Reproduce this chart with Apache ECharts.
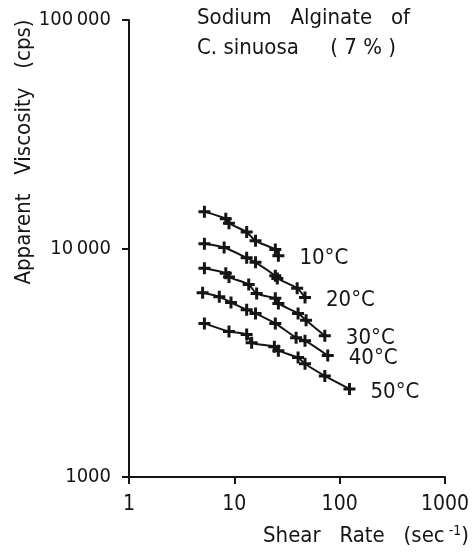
<!DOCTYPE html>
<html>
<head>
<meta charset="utf-8">
<script src="https://cdn.jsdelivr.net/npm/echarts@6/dist/echarts.min.js"></script>
<style>
  html, body { margin: 0; padding: 0; background: #fff; }
  #main { width: 472px; height: 556px; }
</style>
</head>
<body>
<div id="main"></div>
<script>
// shear rate (sec-1) / apparent viscosity (cps)
var rate10 = [5.2, 8.3, 8.9, 13.1, 15.9, 24.5, 26.2];
var visc10 = [14500, 13500, 12900, 11800, 10800, 9900, 9300];

var rate20 = [5.2, 8.0, 13.1, 15.9, 24.5, 25.6, 39.5, 46.9];
var visc20 = [10500, 10100, 9100, 8700, 7600, 7400, 6700, 6100];

var rate30 = [5.2, 8.3, 8.9, 13.7, 16.3, 24.5, 26.2, 40.3, 48.0, 72.3];
var visc30 = [8200, 7800, 7500, 6950, 6350, 6050, 5750, 5200, 4850, 4150];

var rate40 = [5.0, 7.2, 9.3, 13.1, 15.9, 24.5, 38.6, 46.9, 77.1];
var visc40 = [6400, 6150, 5800, 5400, 5200, 4700, 4070, 3950, 3400];

var rate50 = [5.2, 8.9, 13.1, 14.6, 24.0, 26.2, 40.3, 46.9, 72.3, 124];
var visc50 = [4700, 4330, 4200, 3870, 3720, 3570, 3330, 3130, 2770, 2430];

var seriesNames = ['10°C', '20°C', '30°C', '40°C', '50°C'];
var xTicks = [1, 10, 100, 1000];
var yTicks = [1000, 10000, 100000];

var FONT = '"DejaVu Sans Condensed", sans-serif';
var INK = '#151515';
// fat plus sign, like the hand-drawn data crosses
var CROSS = 'path://M-1.5,-6 L1.5,-6 L1.5,-1.5 L6,-1.5 L6,1.5 L1.5,1.5 L1.5,6 L-1.5,6 L-1.5,1.5 L-6,1.5 L-6,-1.5 L-1.5,-1.5 Z';

function pairs(xs, ys){
    var out = [];
    for (var i = 0; i < xs.length; i++) out.push([xs[i], ys[i]]);
    return out;
}

function makeSeries(name, xs, ys){
    return {
        name: name,
        type: 'line',
        data: pairs(xs, ys),
        smooth: 0.25,
        symbol: CROSS,
        symbolSize: 12,
        itemStyle: { color: INK },
        lineStyle: { color: INK, width: 2 },
        endLabel: {
            show: true,
            formatter: name,
            distance: 21,
            offset: [0, 3],
            color: INK,
            fontSize: 22,
            fontFamily: FONT
        },
        animation: false
    };
}

var dom = document.getElementById('main');
var myChart = echarts.init(dom);
var option = {
    backgroundColor: '#fff',
    animation: false,
    grid: { left: 129, right: 24, top: 20, bottom: 79 },
    xAxis: {
        type: 'log',
        logBase: 10,
        min: 1,
        max: 1000,
        axisLine: { lineStyle: { color: INK, width: 2 } },
        axisTick: { show: true, length: 7, lineStyle: { color: INK, width: 2 } },
        minorTick: { show: false },
        splitLine: { show: false },
        axisLabel: {
            color: INK,
            fontSize: 21,
            fontFamily: FONT,
            margin: 17,
            formatter: function(v){ return xTicks.indexOf(Math.round(v)) >= 0 ? String(Math.round(v)) : ''; }
        }
    },
    yAxis: {
        type: 'log',
        logBase: 10,
        min: 1000,
        max: 100000,
        axisLine: { lineStyle: { color: INK, width: 2 } },
        axisTick: { show: true, length: 7, lineStyle: { color: INK, width: 2 } },
        minorTick: { show: false },
        splitLine: { show: false },
        axisLabel: {
            color: INK,
            fontSize: 20,
            fontFamily: FONT,
            margin: 18,
            formatter: function(v){
                v = Math.round(v);
                if (yTicks.indexOf(v) < 0) return '';
                if (v < 10000) return String(v);
                var s = String(v);
                return s.substr(0, s.length - 3) + '\u2009' + s.substr(s.length - 3);
            }
        }
    },
    graphic: [
        {
            type: 'text', left: 197, top: 7,
            style: { text: 'Sodium   Alginate   of', fill: INK, fontSize: 22, fontFamily: FONT }
        },
        {
            type: 'text', left: 197, top: 37,
            style: { text: 'C. sinuosa     ( 7 % )', fill: INK, fontSize: 22, fontFamily: FONT }
        },
        {
            type: 'text', right: 3, top: 524,
            style: {
                text: 'Shear   Rate   (sec{sup| -1})',
                fill: INK, fontSize: 22, fontFamily: FONT,
                rich: { sup: { fontSize: 14, verticalAlign: 'top', padding: [0, 0, 10, 0], fontFamily: FONT, fill: INK } }
            }
        },
        {
            type: 'text', x: 24, y: 152, rotation: Math.PI / 2,
            style: {
                text: 'Apparent   Viscosity   (cps)',
                fill: INK, fontSize: 22, fontFamily: FONT,
                align: 'center', verticalAlign: 'middle'
            }
        }
    ],
    series: [
        makeSeries(seriesNames[0], rate10, visc10),
        makeSeries(seriesNames[1], rate20, visc20),
        makeSeries(seriesNames[2], rate30, visc30),
        makeSeries(seriesNames[3], rate40, visc40),
        makeSeries(seriesNames[4], rate50, visc50)
    ]
};
if (option && typeof option === "object") {
    myChart.setOption(option, true);
}
</script>
</body>
</html>
